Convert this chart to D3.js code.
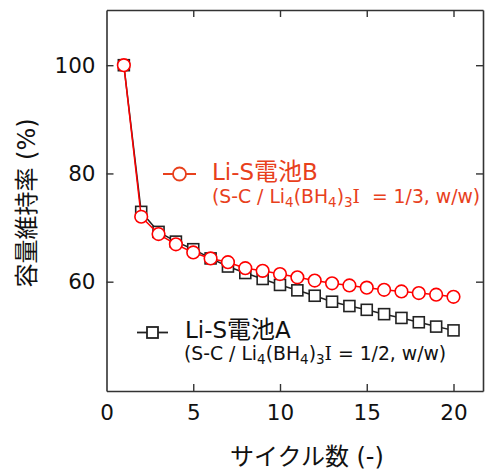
<!DOCTYPE html>
<html lang="ja">
<head>
  <meta charset="utf-8">
  <script src="https://d3js.org/d3.v7.min.js"></script>
  <style>
    body { margin: 0; background: #fff; }
    text { font-family: "DejaVu Sans", "Noto Sans CJK JP", sans-serif; white-space: pre; }
  </style>
</head>
<body>
  <div id="chart"></div>
  <script>
  const width = 485
  const height = 474

  // cycle numbers and capacity retention (%)
  const cycles = d3.range(1, 21)
  const seriesA = [100, 72.9, 69.2, 67.4, 66.0, 64.3, 62.8, 61.6, 60.5, 59.4,
                   58.4, 57.4, 56.3, 55.5, 54.8, 54.0, 53.3, 52.5, 51.7, 51.0]
  const seriesB = [100, 72.0, 68.8, 66.9, 65.4, 64.3, 63.6, 62.5, 62.0, 61.4,
                   60.8, 60.2, 59.7, 59.3, 58.9, 58.5, 58.2, 57.9, 57.6, 57.2]
  const xTicks = [0, 5, 10, 15, 20]
  const yTicks = [60, 80, 100]

  const margin = {top: 10, right: 2, bottom: 83, left: 106.5}

  const svg = d3.select('#chart').append('svg')
      .attr('width', width)
      .attr('height', height)

  const x = d3.scaleLinear()
      .domain([0, 21.7])
      .range([margin.left, width - margin.right])

  const y = d3.scaleLinear()
      .domain([39.8, 110.2])
      .range([height - margin.bottom, margin.top])

  const axisColor = '#333'
  const red = '#f00'
  const legendRed = '#e8401c'

  ////////////////////////////////////////////////////////////
  //////////////////////// Axes //////////////////////////////
  ////////////////////////////////////////////////////////////

  const gBottom = svg.append('g')
      .attr('transform', `translate(0,${y.range()[0]})`)
      .call(d3.axisBottom(x).tickValues(xTicks).tickSizeInner(-7).tickSizeOuter(0).tickPadding(14))
  const gTop = svg.append('g')
      .attr('transform', `translate(0,${y.range()[1]})`)
      .call(d3.axisTop(x).tickValues(xTicks).tickSizeInner(-7).tickSizeOuter(0).tickFormat(''))
  const gLeft = svg.append('g')
      .attr('transform', `translate(${x.range()[0]},0)`)
      .call(d3.axisLeft(y).tickValues(yTicks).tickSizeInner(-7).tickSizeOuter(0).tickPadding(11))
  const gRight = svg.append('g')
      .attr('transform', `translate(${x.range()[1]},0)`)
      .call(d3.axisRight(y).tickValues(yTicks).tickSizeInner(-7).tickSizeOuter(0).tickFormat(''))

  ;[gBottom, gTop, gLeft, gRight].forEach(g => {
    g.select('.domain').attr('stroke', axisColor).attr('stroke-width', 1.6)
    g.selectAll('.tick line').attr('stroke', axisColor).attr('stroke-width', 1.4)
    g.selectAll('.tick text').attr('fill', '#111').style('font-size', '21.5px')
  })
  gBottom.selectAll('.tick line').filter(d => d === 0).remove()
  gTop.selectAll('.tick line').filter(d => d === 0).remove()

  // axis titles
  svg.append('text')
      .attr('x', 307).attr('y', 465)
      .attr('text-anchor', 'middle')
      .style('font-size', '24px').attr('fill', '#111')
      .text('サイクル数 (-)')

  svg.append('text')
      .attr('transform', 'translate(35,203) rotate(-90)')
      .attr('text-anchor', 'middle')
      .style('font-size', '24px').attr('fill', '#111')
      .text('容量維持率 (%)')

  ////////////////////////////////////////////////////////////
  //////////////////////// Series ////////////////////////////
  ////////////////////////////////////////////////////////////

  const line = d3.line().x((d, i) => x(cycles[i])).y(d => y(d))

  // A: black squares
  svg.append('path')
      .datum(seriesA)
      .attr('d', line)
      .attr('fill', 'none').attr('stroke', '#222').attr('stroke-width', 1.5)
  svg.selectAll('rect.a')
      .data(seriesA)
      .join('rect')
      .attr('class', 'a')
      .attr('x', (d, i) => x(cycles[i]) - 5.5)
      .attr('y', d => y(d) - 5.5)
      .attr('width', 11).attr('height', 11)
      .attr('fill', '#fff').attr('stroke', '#222').attr('stroke-width', 1.6)

  // B: red circles
  svg.append('path')
      .datum(seriesB)
      .attr('d', line)
      .attr('fill', 'none').attr('stroke', red).attr('stroke-width', 1.5)
  svg.selectAll('circle.b')
      .data(seriesB)
      .join('circle')
      .attr('class', 'b')
      .attr('cx', (d, i) => x(cycles[i]))
      .attr('cy', d => y(d))
      .attr('r', 6.3)
      .attr('fill', '#fff').attr('stroke', red).attr('stroke-width', 1.6)

  ////////////////////////////////////////////////////////////
  //////////////////////// Legend ////////////////////////////
  ////////////////////////////////////////////////////////////

  function title(tx, ty, color, letter) {
    const t = svg.append('text').attr('x', tx).attr('y', ty)
        .attr('fill', color).style('font-size', '23px')
    t.append('tspan').text('Li-S')
    t.append('tspan').style('font-size', '24px').text('電池')
    t.append('tspan').text(letter)
  }

  function formula(tx, ty, color, ratio) {
    const t = svg.append('text').attr('x', tx).attr('y', ty)
        .attr('fill', color).style('font-size', '18.8px')
    t.append('tspan').text('(S-C / Li')
    t.append('tspan').attr('dy', 4).style('font-size', '13.5px').text('4')
    t.append('tspan').attr('dy', -4).text('(BH')
    t.append('tspan').attr('dy', 4).style('font-size', '13.5px').text('4')
    t.append('tspan').attr('dy', -4).text(')')
    t.append('tspan').attr('dy', 4).style('font-size', '13.5px').text('3')
    t.append('tspan').attr('dy', -4).style('font-family', '"DejaVu Serif", serif').text('I')
    t.append('tspan').text(ratio)
  }

  const legB = svg.append('g').attr('transform', 'translate(163,174)')
  legB.append('line').attr('x1', 0).attr('x2', 33).attr('stroke', legendRed).attr('stroke-width', 1.8)
  legB.append('circle').attr('cx', 16.5).attr('r', 6.5)
      .attr('fill', '#fff').attr('stroke', legendRed).attr('stroke-width', 1.8)
  title(212, 180, legendRed, 'B')
  formula(212, 203, legendRed, '  = 1/3, w/w)')

  const legA = svg.append('g').attr('transform', 'translate(137,332.5)')
  legA.append('line').attr('x1', 0).attr('x2', 31).attr('stroke', '#222').attr('stroke-width', 1.8)
  legA.append('rect').attr('x', 10).attr('y', -5.5).attr('width', 11).attr('height', 11)
      .attr('fill', '#fff').attr('stroke', '#222').attr('stroke-width', 1.8)
  title(185, 338, '#111', 'A')
  formula(184, 360, '#111', ' = 1/2, w/w)')
  </script>
</body>
</html>
